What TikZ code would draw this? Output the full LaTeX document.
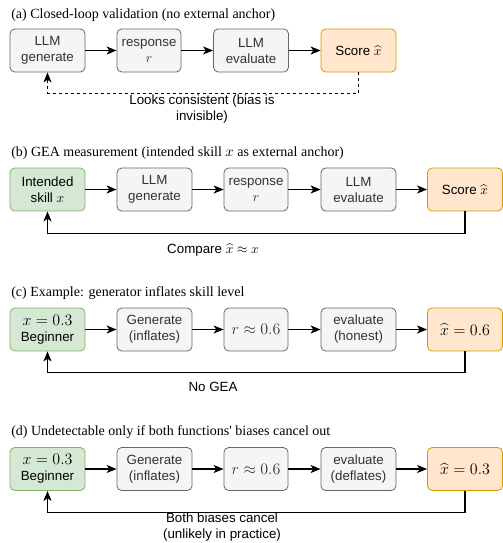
\documentclass[tikz,border=0pt]{standalone}
\usepackage[no-math]{fontspec}
\setmainfont{Liberation Sans}
\newfontfamily\serifttl{Liberation Serif}
\usepackage{amsmath}
\usepackage{amssymb}
\usetikzlibrary{arrows.meta}
\tikzset{>={Stealth[length=7.5pt,width=6pt,inset=2pt]}}
\definecolor{gfill}{HTML}{F5F5F5}
\definecolor{gline}{HTML}{666666}
\definecolor{gtext}{HTML}{333333}
\definecolor{grnfill}{HTML}{D5E8D4}
\definecolor{grnline}{HTML}{82B366}
\definecolor{orfill}{HTML}{FFE6CC}
\definecolor{orline}{HTML}{D79B00}
\tikzset{box/.style={draw=gline,fill=gfill,text=gtext,rounded corners=3.5pt,line width=0.6pt,
    minimum width=56.25pt,minimum height=32.25pt,inner sep=0pt,align=center,
    font=\fontsize{10}{12}\selectfont}}
\tikzset{nbox/.style={box,minimum width=48pt}}
\tikzset{skill/.style={box,draw=grnline,fill=grnfill,text=black}}
\tikzset{score/.style={box,draw=orline,fill=orfill,text=black}}
\tikzset{ttl/.style={anchor=west,inner sep=0pt,font=\serifttl\fontsize{10.5}{12}\selectfont}}
\tikzset{lbl/.style={inner sep=0pt,align=center,font=\fontsize{10}{12}\selectfont}}
\tikzset{flow/.style={->,line width=0.8pt}}
\newcommand{\bigmath}[1]{{\fontsize{11.5}{13}\selectfont$#1$}}

\begin{document}
\begin{tikzpicture}[x=0.75pt,y=-0.75pt]
                \useasboundingbox (0,0) rectangle (503,543);

                % (a) closed loop
                \node[ttl] (ta) at (11,15) {(a) Closed-loop validation (no external anchor)};
                \node[box] (a1) at (47.5,50.5) {LLM\\generate};
                \node[nbox] (a2) at (149,50.5) {response\\$r$};
                \node[box] (a3) at (251,50.5) {LLM\\evaluate};
                \node[score] (a4) at (358.5,50.5) {Score $\widehat{x}$};
                \node[lbl] (la) at (202,109) {Looks consistent (bias is\\invisible)};

                \draw[flow] (a1) -- (a2);
                \draw[flow] (a2) -- (a3);
                \draw[flow] (a3) -- (a4);
                \draw[flow,dash pattern=on 2.25pt off 2.25pt] (a4.south) -- ++(0,21) -| (a1.south);

                % (b) GEA measurement
                \node[ttl] (tb) at (11,153) {(b) GEA measurement (intended skill $x$ as external anchor)};
                \node[skill] (b1) at (47.5,189.5) {Intended\\skill $x$};
                \node[box] (b2) at (154.5,189.5) {LLM\\generate};
                \node[nbox] (b3) at (256,189.5) {response\\$r$};
                \node[box] (b4) at (358.5,189.5) {LLM\\evaluate};
                \node[score] (b5) at (465,189.5) {Score $\widehat{x}$};
                \node[lbl] (lb) at (213,250) {Compare $\widehat{x}\approx x$};

                \draw[flow] (b1) -- (b2);
                \draw[flow] (b2) -- (b3);
                \draw[flow] (b3) -- (b4);
                \draw[flow] (b4) -- (b5);
                \draw[flow] (b5.south) -- ++(0,22) -| (b1.south);

                % (c) generator inflates
                \node[ttl] (tc) at (11,293) {(c) Example: generator inflates skill level};
                \node[skill] (c1) at (47.5,329.5) {\bigmath{x=0.3}\\Beginner};
                \node[box] (c2) at (154.5,329.5) {Generate\\(inflates)};
                \node[nbox] (c3) at (256,329.5) {\bigmath{r\approx 0.6}};
                \node[box] (c4) at (358.5,329.5) {evaluate\\(honest)};
                \node[score] (c5) at (465,329.5) {\bigmath{\widehat{x}=0.6}};
                \node[lbl] (lc) at (213,387) {No GEA};

                \draw[flow] (c1) -- (c2);
                \draw[flow] (c2) -- (c3);
                \draw[flow] (c3) -- (c4);
                \draw[flow] (c4) -- (c5);
                \draw[flow] (c5.south) -- ++(0,21) -| (c1.south);

                % (d) both biases cancel
                \node[ttl] (td) at (11,432) {(d) Undetectable only if both functions' biases cancel out};
                \node[skill] (d1) at (47.5,469) {\bigmath{x=0.3}\\Beginner};
                \node[box] (d2) at (154.5,469) {Generate\\(inflates)};
                \node[nbox] (d3) at (256,469) {\bigmath{r\approx 0.6}};
                \node[box] (d4) at (358.5,469) {evaluate\\(deflates)};
                \node[score] (d5) at (465,469) {\bigmath{\widehat{x}=0.3}};
                \node[lbl] (ld) at (222,527.5) {Both biases cancel\\(unlikely in practice)};

                \draw[flow] (d1) -- (d2);
                \draw[flow] (d2) -- (d3);
                \draw[flow] (d3) -- (d4);
                \draw[flow] (d4) -- (d5);
                \draw[flow] (d5.south) -- ++(0,21.5) -| (d1.south);
            \end{tikzpicture}
\end{document}
